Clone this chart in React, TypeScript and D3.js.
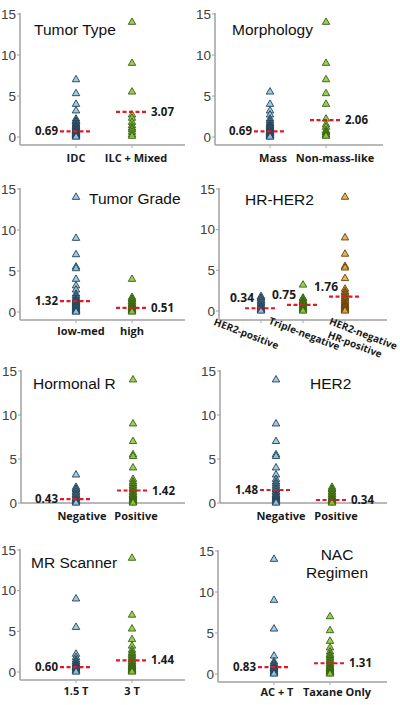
import React from "react";
import * as d3 from "d3";

// ---------- DATA ----------
const yTicks = [0, 5, 10, 15];

const tumorTypeCats = ["IDC", "ILC + Mixed"];
const tumorTypeIDC = [7, 5.3, 4, 3.2, 2.2, 2.0, 1.9, 1.8, 1.6, 1.5, 1.4, 1.3, 1.2, 1.1, 1.0, 0.9, 0.85, 0.8, 0.75, 0.7, 0.65, 0.6, 0.55, 0.5, 0.45, 0.4, 0.35, 0.3, 0.25, 0.2, 0.15, 0.1, 0.05, 0];
const tumorTypeILC = [14, 9, 5.5, 2.7, 2.3, 1.8, 1.4, 1.1, 0.9, 0.6, 0.3, 0.1];
const tumorTypeMedians = [0.69, 3.07];

const morphCats = ["Mass", "Non-mass-like"];
const morphMass = [5.5, 4, 3.2, 2.7, 2.2, 2.0, 1.8, 1.6, 1.5, 1.4, 1.3, 1.2, 1.1, 1.0, 0.9, 0.8, 0.75, 0.7, 0.65, 0.6, 0.55, 0.5, 0.45, 0.4, 0.35, 0.3, 0.25, 0.2, 0.15, 0.1, 0.05, 0];
const morphNonMass = [14, 9, 7, 5.3, 4, 2.2, 1.5, 1.2, 0.8, 0.6, 0.5, 0.3, 0.2, 0.1];
const morphMedians = [0.69, 2.06];

const gradeCats = ["low-med", "high"];
const gradeLowMed = [14, 9, 7, 5.5, 5.3, 4, 3.2, 2.7, 2.2, 2.0, 1.8, 1.6, 1.5, 1.4, 1.3, 1.2, 1.1, 1.0, 0.9, 0.8, 0.7, 0.6, 0.5, 0.4, 0.3, 0.2, 0.1, 0.05, 0];
const gradeHigh = [4, 1.8, 1.6, 1.5, 1.3, 1.2, 1.0, 0.9, 0.8, 0.7, 0.6, 0.5, 0.45, 0.4, 0.3, 0.2, 0.15, 0.1, 0];
const gradeMedians = [1.32, 0.51];

const hrHer2Cats = ["HER2-positive", "Triple-negative", "HER2-negative HR-positive"];
const hrHer2Pos = [1.8, 1.6, 1.5, 1.3, 1.2, 1.0, 0.9, 0.7, 0.6, 0.5, 0.4, 0.3, 0.2, 0.1, 0];
const hrTripleNeg = [3.2, 1.6, 1.5, 1.3, 1.2, 1.1, 1.0, 0.9, 0.75, 0.6, 0.5, 0.4, 0.3, 0.2, 0.1, 0];
const hrHer2NegHrPos = [14, 9, 7, 5.5, 5.3, 4, 2.7, 2.4, 2.2, 2.0, 1.8, 1.6, 1.5, 1.3, 1.2, 1.0, 0.9, 0.8, 0.7, 0.6, 0.5, 0.4, 0.3, 0.2, 0.1, 0];
const hrHer2Medians = [0.34, 0.75, 1.76];

const hormonalCats = ["Negative", "Positive"];
const hormonalNeg = [3.2, 1.8, 1.6, 1.5, 1.3, 1.2, 1.0, 0.9, 0.8, 0.6, 0.5, 0.4, 0.3, 0.2, 0.1, 0];
const hormonalPos = [14, 9, 7, 5.5, 5.3, 4, 2.7, 2.4, 2.2, 2.0, 1.8, 1.6, 1.5, 1.3, 1.2, 1.0, 0.9, 0.8, 0.7, 0.6, 0.5, 0.4, 0.3, 0.2, 0.1, 0];
const hormonalMedians = [0.43, 1.42];

const her2Cats = ["Negative", "Positive"];
const her2Neg = [14, 9, 7, 5.5, 5.3, 4, 3.2, 2.7, 2.4, 2.2, 2.0, 1.8, 1.6, 1.5, 1.3, 1.2, 1.0, 0.9, 0.8, 0.7, 0.6, 0.5, 0.4, 0.3, 0.2, 0.1, 0];
const her2Pos = [1.8, 1.6, 1.5, 1.3, 1.2, 1.0, 0.9, 0.7, 0.6, 0.5, 0.4, 0.3, 0.2, 0.1, 0];
const her2Medians = [1.48, 0.34];

const scannerCats = ["1.5 T", "3 T"];
const scanner15 = [9, 5.5, 2.2, 1.8, 1.5, 1.3, 1.2, 1.0, 0.9, 0.8, 0.7, 0.6, 0.5, 0.4, 0.3, 0.2, 0.1, 0];
const scanner3 = [14, 7, 5.3, 4, 3.2, 2.7, 2.4, 2.2, 2.0, 1.8, 1.6, 1.5, 1.3, 1.2, 1.0, 0.9, 0.8, 0.7, 0.6, 0.5, 0.4, 0.3, 0.2, 0.1, 0];
const scannerMedians = [0.6, 1.44];

const nacCats = ["AC + T", "Taxane Only"];
const nacACT = [14, 9, 5.5, 2.2, 1.5, 1.3, 1.2, 1.0, 0.9, 0.8, 0.7, 0.6, 0.5, 0.4, 0.3, 0.2, 0.1, 0];
const nacTaxane = [7, 5.3, 4, 3.2, 2.7, 2.4, 2.2, 2.0, 1.8, 1.6, 1.5, 1.3, 1.2, 1.0, 0.9, 0.8, 0.7, 0.6, 0.5, 0.4, 0.3, 0.2, 0.1, 0];
const nacMedians = [0.83, 1.31];

// ---------- STYLE ----------
const BLUE = { fill: "#8fc3df", stroke: "#1f3e55" };
const GREEN = { fill: "#8cc43c", stroke: "#34600e" };
const ORANGE = { fill: "#e3a63c", stroke: "#64400a" };

type Panel = {
  axisX: number; y15: number; y0: number; xAxisY: number; xEnd: number;
  catRange: [number, number];
  cats: string[];
  series: { values: number[]; color: { fill: string; stroke: string } }[];
  medians: number[];
  medSide: ("left" | "right" | "above")[];
  title: string[]; titleX: number; titleY: number; titleAnchor: "start" | "middle";
  catLabelY: number;
  catLabelDx: number[];
  rotatedLabels?: boolean;
};

const panels: Panel[] = [
  {
    axisX: 20, y15: 14, y0: 137, xAxisY: 145, xEnd: 185, catRange: [76, 132],
    cats: tumorTypeCats,
    series: [{ values: tumorTypeIDC, color: BLUE }, { values: tumorTypeILC, color: GREEN }],
    medians: tumorTypeMedians, medSide: ["left", "right"],
    title: ["Tumor Type"], titleX: 34, titleY: 35, titleAnchor: "start", catLabelY: 162, catLabelDx: [0, 4],
  },
  {
    axisX: 215, y15: 14, y0: 137, xAxisY: 145, xEnd: 383, catRange: [270, 326],
    cats: morphCats,
    series: [{ values: morphMass, color: BLUE }, { values: morphNonMass, color: GREEN }],
    medians: morphMedians, medSide: ["left", "right"],
    title: ["Morphology"], titleX: 232, titleY: 35, titleAnchor: "start", catLabelY: 162, catLabelDx: [3, 9],
  },
  {
    axisX: 20, y15: 189, y0: 312, xAxisY: 320, xEnd: 185, catRange: [76, 132],
    cats: gradeCats,
    series: [{ values: gradeLowMed, color: BLUE }, { values: gradeHigh, color: GREEN }],
    medians: gradeMedians, medSide: ["left", "right"],
    title: ["Tumor Grade"], titleX: 89, titleY: 204, titleAnchor: "start", catLabelY: 335, catLabelDx: [5, 0],
  },
  {
    axisX: 219, y15: 189, y0: 311, xAxisY: 320, xEnd: 387, catRange: [261, 345],
    cats: hrHer2Cats,
    series: [
      { values: hrHer2Pos, color: BLUE },
      { values: hrTripleNeg, color: GREEN },
      { values: hrHer2NegHrPos, color: ORANGE },
    ],
    medians: hrHer2Medians, medSide: ["above", "above", "above"],
    title: ["HR-HER2"], titleX: 245, titleY: 205, titleAnchor: "start", catLabelY: 335, catLabelDx: [-16, 0, 17],
    rotatedLabels: true,
  },
  {
    axisX: 21, y15: 371, y0: 503, xAxisY: 503, xEnd: 185, catRange: [76, 133],
    cats: hormonalCats,
    series: [{ values: hormonalNeg, color: BLUE }, { values: hormonalPos, color: GREEN }],
    medians: hormonalMedians, medSide: ["left", "right"],
    title: ["Hormonal R"], titleX: 33, titleY: 389, titleAnchor: "start", catLabelY: 520, catLabelDx: [6, 3],
  },
  {
    axisX: 220, y15: 371, y0: 503, xAxisY: 503, xEnd: 387, catRange: [276, 332],
    cats: her2Cats,
    series: [{ values: her2Neg, color: BLUE }, { values: her2Pos, color: GREEN }],
    medians: her2Medians, medSide: ["left", "right"],
    title: ["HER2"], titleX: 310, titleY: 389, titleAnchor: "start", catLabelY: 520, catLabelDx: [5, 4],
  },
  {
    axisX: 20, y15: 550, y0: 672, xAxisY: 680, xEnd: 185, catRange: [76, 132],
    cats: scannerCats,
    series: [{ values: scanner15, color: BLUE }, { values: scanner3, color: GREEN }],
    medians: scannerMedians, medSide: ["left", "right"],
    title: ["MR Scanner"], titleX: 31, titleY: 568, titleAnchor: "start", catLabelY: 695, catLabelDx: [0, 0],
  },
  {
    axisX: 218, y15: 551, y0: 674, xAxisY: 682, xEnd: 387, catRange: [274, 330],
    cats: nacCats,
    series: [{ values: nacACT, color: BLUE }, { values: nacTaxane, color: GREEN }],
    medians: nacMedians, medSide: ["left", "right"],
    title: ["NAC", "Regimen"], titleX: 337, titleY: 560, titleAnchor: "middle", catLabelY: 696, catLabelDx: [3, 7],
  },
];

const TITLE_FONT = "'Liberation Sans', Arial, sans-serif";
const LABEL_FONT = "'Open Sans', 'DejaVu Sans', sans-serif";

const triangle = d3.symbol().type(d3.symbolTriangle).size(24)();

function PanelView({ p }: { p: Panel }) {
  const y = d3.scaleLinear().domain([0, 15]).range([p.y0, p.y15]);
  const x = d3.scalePoint<string>().domain(p.cats).range(p.catRange);
  const fmt = d3.format(".2f");
  return (
    <g>
      {/* axes */}
      <line x1={p.axisX} x2={p.axisX} y1={y(15) - 1} y2={p.xAxisY} stroke="#a0a0a0" strokeWidth={1.5} />
      <line x1={p.axisX} x2={p.xEnd} y1={p.xAxisY} y2={p.xAxisY} stroke="#a0a0a0" strokeWidth={1.5} />
      {yTicks.map((t) => (
        <g key={t}>
          <line x1={p.axisX - 3} x2={p.axisX} y1={y(t)} y2={y(t)} stroke="#a0a0a0" strokeWidth={1} />
          <text x={p.axisX - 4} y={y(t)} dy="0.35em" textAnchor="end" fontSize={13.5}
            fontFamily={TITLE_FONT} fill="#404040">{t}</text>
        </g>
      ))}
      {p.cats.map((c) => (
        <line key={c} x1={x(c)} x2={x(c)} y1={p.xAxisY} y2={p.xAxisY + 3} stroke="#9aa6c0" strokeWidth={1} />
      ))}
      {/* title */}
      <text x={p.titleX} y={p.titleY} textAnchor={p.titleAnchor} fontSize={15.5}
        fontFamily={TITLE_FONT} fill="#111">
        {p.title.map((t, i) => (
          <tspan key={t} x={p.titleX} dy={i === 0 ? 0 : 18}>{t}</tspan>
        ))}
      </text>
      {/* points */}
      {p.series.map((s, si) =>
        s.values.map((v, vi) => (
          <path key={si + "-" + vi} d={triangle!}
            transform={`translate(${x(p.cats[si])},${y(v)})`}
            fill={s.color.fill} stroke={s.color.stroke} strokeWidth={0.9} fillOpacity={0.85} />
        ))
      )}
      {/* medians */}
      {p.medians.map((m, i) => {
        const cx = x(p.cats[i])!;
        const my = y(m);
        const side = p.medSide[i];
        return (
          <g key={"m" + i}>
            <line x1={cx - 16} x2={cx + 16} y1={my} y2={my} stroke="#e01b24" strokeWidth={2.2} strokeDasharray="4,2.5" />
            {side === "left" && (
              <text x={cx - 18} y={my} dy="0.35em" textAnchor="end" fontSize={11.5} fontWeight="bold"
                fontFamily={LABEL_FONT} fill="#1a1a1a">{fmt(m)}</text>
            )}
            {side === "right" && (
              <text x={cx + 19} y={my} dy="0.35em" textAnchor="start" fontSize={11.5} fontWeight="bold"
                fontFamily={LABEL_FONT} fill="#1a1a1a">{fmt(m)}</text>
            )}
            {side === "above" && (
              <text x={cx - 7} y={my - 6} textAnchor="end" fontSize={12} fontWeight="bold"
                fontFamily={LABEL_FONT} fill="#1a1a1a">{fmt(m)}</text>
            )}
          </g>
        );
      })}
      {/* category labels */}
      {!p.rotatedLabels &&
        p.cats.map((c, i) => (
          <text key={"l" + c} x={x(c)! + p.catLabelDx[i]} y={p.catLabelY} textAnchor="middle" fontSize={11} fontWeight="bold"
            fontFamily={LABEL_FONT} fill="#1a1a1a">{c}</text>
        ))}
      {p.rotatedLabels &&
        p.cats.map((c, i) => {
          const lines = c === "HER2-negative HR-positive" ? ["HER2-negative", "HR-positive"] : [c];
          const cx = x(c)! + p.catLabelDx[i];
          const cy = p.xAxisY + 17;
          return (
            <text key={"l" + c} transform={`translate(${cx},${cy}) rotate(21)`} textAnchor="middle"
              fontSize={10} fontWeight="bold" fontFamily={LABEL_FONT} fill="#1a1a1a">
              {lines.map((l, li) => (
                <tspan key={l} x={li === 0 ? 0 : -4} dy={li === 0 ? 0 : 13}>{l}</tspan>
              ))}
            </text>
          );
        })}
    </g>
  );
}

export default function App() {
  return (
    <svg width={400} height={705} style={{ position: "absolute", left: 0, top: 0, background: "#fff" }}>
      <rect width={400} height={705} fill="#fff" />
      {panels.map((p, i) => (
        <PanelView key={i} p={p} />
      ))}
    </svg>
  );
}
